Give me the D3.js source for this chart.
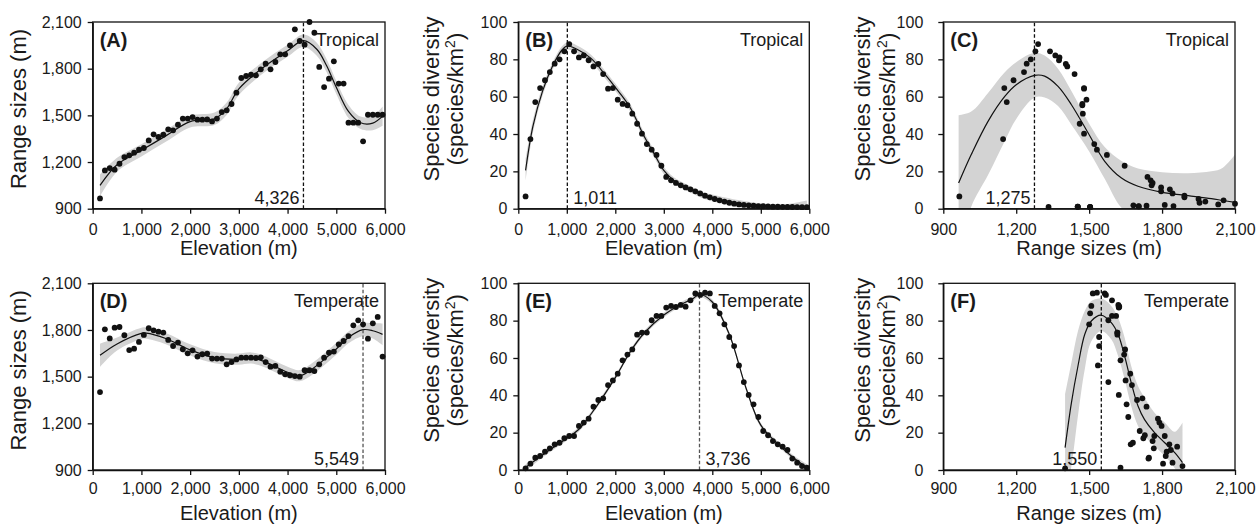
<!DOCTYPE html>
<html>
<head>
<meta charset="utf-8">
<script src="https://cdn.jsdelivr.net/npm/d3@7"></script>
<style>
  body { margin: 0; background: #fff; }
  svg text { font-family: "Liberation Sans", Arial, sans-serif; fill: #1a1a1a; }
</style>
</head>
<body>
<svg id="chart" width="1256" height="525"></svg>
<script>
// Sampled elevations (m)
const elev = [150, 250, 350, 450, 550, 650, 750, 850, 950, 1050, 1150, 1250, 1350, 1450, 1550, 1650, 1750, 1850, 1950, 2050,
  2150, 2250, 2350, 2450, 2550, 2650, 2750, 2850, 2950, 3050, 3150, 3250, 3350, 3450, 3550, 3650, 3750, 3850, 3950, 4050,
  4150, 4250, 4350, 4450, 4550, 4650, 4750, 4850, 4950, 5050, 5150, 5250, 5350, 5450, 5550, 5650, 5750, 5850, 5950];

// Tropical: range sizes (m) and species diversity per elevation
const rangeTrop = [966, 1146, 1161, 1151, 1189, 1232, 1243, 1260, 1279, 1290, 1339, 1378, 1361, 1376, 1410, 1404, 1440, 1479, 1479, 1489,
  1472, 1472, 1474, 1461, 1479, 1521, 1532, 1573, 1646, 1740, 1753, 1761, 1757, 1796, 1832, 1796, 1843, 1892, 1892, 1950,
  2053, 1978, 1954, 2100, 2031, 1811, 1682, 1736, 1847, 1704, 1704, 1453, 1453, 1453, 1333, 1504, 1504, 1504, 1504];
const divTrop = [6.6, 37.3, 57.1, 64.6, 68.8, 73.2, 77.7, 80, 84.3, 88.2, 84.3, 81, 82.1, 79.5, 76.2, 77.5, 72.1, 64.3, 64.6, 58.4,
  56.1, 55.4, 50.9, 45.5, 40.2, 34.6, 31.6, 28.8, 23, 17, 15.2, 13.8, 12.5, 11.4, 10.4, 9.3, 8.2, 7, 6.1, 5.2,
  4.5, 3.8, 3.2, 2.7, 2.3, 2, 1.8, 1.6, 1.4, 1.3, 1.2, 1.1, 1.05, 1.0, 0.95, 0.9, 0.85, 0.8, 0.8];

// Temperate
const rangeTemp = [1401, 1804, 1746, 1815, 1819, 1766, 1671, 1680, 1723, 1768, 1811, 1798, 1789, 1783, 1736, 1697, 1719, 1676, 1650, 1669,
  1629, 1644, 1648, 1616, 1616, 1616, 1579, 1594, 1611, 1622, 1622, 1622, 1620, 1624, 1594, 1564, 1569, 1532, 1515, 1509,
  1504, 1500, 1541, 1541, 1536, 1579, 1622, 1654, 1661, 1708, 1729, 1761, 1830, 1862, 1836, 1744, 1843, 1884, 1629];
const divTemp = [0.9, 3.4, 6.6, 7.5, 9.8, 11.6, 13.75, 14.6, 17, 18.2, 18.2, 23.6, 25.4, 27.5, 33.9, 37.5, 38.4, 45.5, 48, 51.6,
  58.75, 61.8, 64.6, 72.5, 73.6, 73.6, 80.2, 82.5, 82.5, 87, 87.9, 87.3, 88.4, 87.5, 90.9, 94.6, 93.75, 95, 94.6, 87.9,
  83.9, 78, 71.25, 66.4, 56, 47.1, 40.2, 35.2, 28.4, 20.9, 18.6, 15.5, 13.75, 12.5, 10.7, 6.1, 3.9, 2.1, 1.25];

// Fitted curves and confidence bands
const fitXA = [150, 500, 1000, 1500, 2000, 2500, 2750, 3000, 3500, 4000, 4326, 4600, 4800, 5000, 5250, 5500, 5750, 5950];
const fitA  = [1050, 1183, 1275, 1368, 1460, 1478, 1543, 1670, 1808, 1915, 1980, 1925, 1820, 1680, 1525, 1452, 1450, 1495];
const hwA   = [70, 45, 40, 38, 38, 40, 40, 40, 38, 38, 40, 42, 42, 42, 42, 40, 45, 62];

const fitXB = [150, 300, 500, 700, 900, 1011, 1200, 1500, 1800, 2000, 2300, 2600, 2800, 3000, 3200, 3500, 3800, 4000, 4500, 5000, 5500, 5950];
const fitB  = [20.5, 44, 63, 76, 85, 87.2, 85.5, 80.5, 71.5, 65, 54.5, 38.5, 29.5, 20.5, 15.3, 11, 7.3, 5.8, 3, 1.6, 1.1, 0.9];
const hwB   = [6, 3.5, 2.5, 2, 2, 2, 2, 2, 2, 2, 2, 2, 2, 2, 1.7, 1.7, 1.7, 1.8, 1.8, 1.3, 1.3, 3.5];

const fitXC = [963, 1015, 1084, 1152, 1200, 1275, 1317, 1372, 1427, 1500, 1564, 1633, 1701, 1800, 1907, 2003, 2050, 2100];
const fitC  = [13.75, 29, 46.8, 60, 66.4, 71.4, 71, 65.5, 55.7, 39.6, 25.4, 16.4, 12, 8.75, 7, 5.4, 4.4, 3.4];
const hiC   = [50, 52, 62, 73, 78.5, 83.5, 82, 75, 63, 45.5, 33, 25.5, 21.5, 19.5, 19, 20, 22, 29];
const loC   = [-25, 1, 18, 36, 48, 59.5, 59.5, 55, 45, 30.7, 16, 0.5, -5, -5, -5, -8, -12, -20];

const fitXD = [150, 500, 1000, 1100, 1500, 2000, 2500, 3000, 3250, 3500, 4000, 4250, 4500, 5000, 5250, 5549, 5750, 5950];
const fitD  = [1637, 1710, 1778, 1780, 1745, 1672, 1622, 1612, 1620, 1600, 1528, 1506, 1548, 1678, 1752, 1802, 1795, 1772];
const hwD   = [75, 42, 36, 36, 36, 36, 36, 36, 36, 36, 36, 36, 38, 38, 38, 42, 50, 70];

const fitXE = [150, 500, 1000, 1250, 1500, 2000, 2300, 2600, 3000, 3300, 3600, 3736, 4000, 4350, 4700, 5000, 5400, 5700, 5950];
const fitE  = [1.3, 8, 17, 21.8, 30, 49.5, 63, 73.5, 83, 88, 91.8, 94, 90, 72.7, 43.5, 24, 12.8, 6, 1.3];
const hwE   = [1.8, 1.3, 1.2, 1.2, 1.2, 1.2, 1.2, 1.2, 1.2, 1.2, 1.2, 1.3, 1.3, 1.2, 1.2, 1.2, 1.2, 1.3, 1.8];

const fitXF = [1401, 1427, 1454, 1482, 1509, 1550, 1591, 1619, 1646, 1673, 1701, 1728, 1769, 1811, 1852, 1884];
const fitF  = [12, 36, 55.7, 72.7, 79.8, 82.9, 78.9, 72.7, 61, 46.8, 34.3, 27, 20, 14.6, 9.3, 4];
const hiF   = [40.5, 57.5, 74.5, 85.2, 90.5, 91.8, 87.9, 81.6, 70.9, 55.7, 45, 38.75, 30.7, 25.4, 20.5, 25.5];
const loF   = [-15, 2, 29, 54, 69, 74.5, 70, 61, 48.6, 34.3, 23.6, 18.2, 12.9, 7.5, 1, -8];

// Peaks (dashed lines)
const peaks = [4326, 1011, 1275, 5549, 3736, 1550];

// Axis ticks
const elevTicks = [0, 1000, 2000, 3000, 4000, 5000, 6000];
const rangeTicks = [900, 1200, 1500, 1800, 2100];
const divTicks = [0, 20, 40, 60, 80, 100];

// Layout
const cols = [[92.7, 385], [518.3, 809.3], [943.3, 1235]];
const rows = [[22, 208.7], [283.3, 470]];
const xPadRow = [10, 8];
const xTitleRow = [46, 50];

const svg = d3.select("#chart");
const defs = svg.append("defs");
const fmt = d3.format(",");

function zip(a, b) { return a.map((v, i) => [v, b[i]]); }

const panels = [
  { tag: "(A)", col: 0, row: 0, xDom: [0, 6000], yDom: [900, 2100], xTicks: elevTicks, yTicks: rangeTicks,
    pts: zip(elev, rangeTrop), fx: fitXA, fy: fitA,
    lo: fitA.map((v, i) => v - hwA[i]), hi: fitA.map((v, i) => v + hwA[i]),
    peak: peaks[0], peakColor: "#111", peakSide: -1, zone: "Tropical",
    xTitle: "Elevation (m)", yTitle: 1, yPad: 6 },
  { tag: "(B)", col: 1, row: 0, xDom: [0, 6000], yDom: [0, 100], xTicks: elevTicks, yTicks: divTicks,
    pts: zip(elev, divTrop), fx: fitXB, fy: fitB,
    lo: fitB.map((v, i) => v - hwB[i]), hi: fitB.map((v, i) => v + hwB[i]),
    peak: peaks[1], peakColor: "#111", peakSide: 1, zone: "Tropical",
    xTitle: "Elevation (m)", yTitle: 2, yPad: 6 },
  { tag: "(C)", col: 2, row: 0, xDom: [900, 2100], yDom: [0, 100], xTicks: rangeTicks, yTicks: divTicks,
    pts: zip(rangeTrop, divTrop), fx: fitXC, fy: fitC, lo: loC, hi: hiC,
    peak: peaks[2], peakColor: "#111", peakSide: -1, zone: "Tropical",
    xTitle: "Range sizes (m)", yTitle: 3, yPad: 15 },
  { tag: "(D)", col: 0, row: 1, xDom: [0, 6000], yDom: [900, 2100], xTicks: elevTicks, yTicks: rangeTicks,
    pts: zip(elev, rangeTemp), fx: fitXD, fy: fitD,
    lo: fitD.map((v, i) => v - hwD[i]), hi: fitD.map((v, i) => v + hwD[i]),
    peak: peaks[3], peakColor: "#555", peakSide: -1, zone: "Temperate",
    xTitle: "Elevation (m)", yTitle: 1, yPad: 6 },
  { tag: "(E)", col: 1, row: 1, xDom: [0, 6000], yDom: [0, 100], xTicks: elevTicks, yTicks: divTicks,
    pts: zip(elev, divTemp), fx: fitXE, fy: fitE,
    lo: fitE.map((v, i) => v - hwE[i]), hi: fitE.map((v, i) => v + hwE[i]),
    peak: peaks[4], peakColor: "#555", peakSide: 1, zone: "Temperate",
    xTitle: "Elevation (m)", yTitle: 2, yPad: 6 },
  { tag: "(F)", col: 2, row: 1, xDom: [900, 2100], yDom: [0, 100], xTicks: rangeTicks, yTicks: divTicks,
    pts: zip(rangeTemp, divTemp), fx: fitXF, fy: fitF, lo: loF, hi: hiF,
    peak: peaks[5], peakColor: "#111", peakSide: -1, zone: "Temperate",
    xTitle: "Range sizes (m)", yTitle: 3, yPad: 15 }
];

panels.forEach((p, k) => {
  const [l, r] = cols[p.col];
  const [t, b] = rows[p.row];
  const x = d3.scaleLinear().domain(p.xDom).range([l, r]);
  const y = d3.scaleLinear().domain(p.yDom).range([b, t]);
  const g = svg.append("g");

  defs.append("clipPath").attr("id", "clip" + k)
    .append("rect").attr("x", l).attr("y", t).attr("width", r - l).attr("height", b - t);
  const inner = g.append("g").attr("clip-path", `url(#clip${k})`);

  // confidence band
  const band = d3.area()
    .x((d, i) => x(p.fx[i]))
    .y0((d, i) => y(p.lo[i]))
    .y1((d, i) => y(p.hi[i]))
    .curve(d3.curveCatmullRom);
  inner.append("path").datum(p.fx).attr("d", band).attr("fill", "#d3d3d3");

  // fitted line
  const line = d3.line()
    .x((d, i) => x(p.fx[i]))
    .y((d, i) => y(p.fy[i]))
    .curve(d3.curveCatmullRom);
  inner.append("path").datum(p.fx).attr("d", line)
    .attr("fill", "none").attr("stroke", "#111").attr("stroke-width", 1.2);

  // peak dashed line
  g.append("line")
    .attr("x1", x(p.peak)).attr("x2", x(p.peak)).attr("y1", b).attr("y2", t)
    .attr("stroke", p.peakColor).attr("stroke-width", 1.3).attr("stroke-dasharray", "3.5,2.2");

  // points
  g.selectAll(".pt").data(p.pts).enter().append("circle")
    .attr("cx", d => x(d[0])).attr("cy", d => y(d[1])).attr("r", 2.9).attr("fill", "#111");

  // frame
  g.append("rect").attr("x", l).attr("y", t).attr("width", r - l).attr("height", b - t)
    .attr("fill", "none").attr("stroke", "#111").attr("stroke-width", 1.3);

  // axes
  const ax = g.append("g").attr("transform", `translate(0,${b})`)
    .call(d3.axisBottom(x).tickValues(p.xTicks).tickSize(5).tickSizeOuter(0)
      .tickPadding(xPadRow[p.row]).tickFormat(fmt));
  const ay = g.append("g").attr("transform", `translate(${l},0)`)
    .call(d3.axisLeft(y).tickValues(p.yTicks).tickSize(5).tickSizeOuter(0).tickPadding(p.yPad).tickFormat(fmt));
  [ax, ay].forEach(a => {
    a.select(".domain").attr("stroke", "#111").attr("stroke-width", 1.3);
    a.selectAll(".tick line").attr("stroke", "#111").attr("stroke-width", 1.3);
    a.selectAll(".tick text").attr("font-size", 16).attr("font-family", null).attr("fill", "#1a1a1a");
  });

  // peak label
  g.append("text")
    .attr("x", x(p.peak) + (p.peakSide > 0 ? 6 : -4))
    .attr("y", b - 5)
    .attr("text-anchor", p.peakSide > 0 ? "start" : "end")
    .attr("font-size", 18)
    .text(fmt(p.peak));

  // panel tag and zone
  g.append("text").attr("x", l + 7).attr("y", t + 25)
    .attr("font-size", 20).attr("font-weight", "bold").text(p.tag);
  g.append("text").attr("x", r - 6).attr("y", t + 24).attr("text-anchor", "end")
    .attr("font-size", 18).text(p.zone);

  // x title
  g.append("text").attr("x", (l + r) / 2).attr("y", b + xTitleRow[p.row]).attr("text-anchor", "middle")
    .attr("font-size", 20).text(p.xTitle);

  // y title
  if (p.yTitle === 1) {
    g.append("text").attr("transform", `translate(${l - 67},${t + 87}) rotate(-90)`)
      .attr("text-anchor", "middle").attr("font-size", 22).text("Range sizes (m)");
  } else {
    const off1 = p.yTitle === 2 ? 79.3 : 73.3;
    const off2 = p.yTitle === 2 ? 55.6 : 48;
    g.append("text").attr("transform", `translate(${l - off1},${t + 77}) rotate(-90)`)
      .attr("text-anchor", "middle").attr("font-size", 22).text("Species diversity");
    const t2 = g.append("text").attr("transform", `translate(${l - off2},${t + 77}) rotate(-90)`)
      .attr("text-anchor", "middle").attr("font-size", 22);
    t2.append("tspan").text("(species/km");
    t2.append("tspan").attr("dy", -8).attr("font-size", 14).text("2");
    t2.append("tspan").attr("dy", 8).text(")");
  }
});
</script>
</body>
</html>
